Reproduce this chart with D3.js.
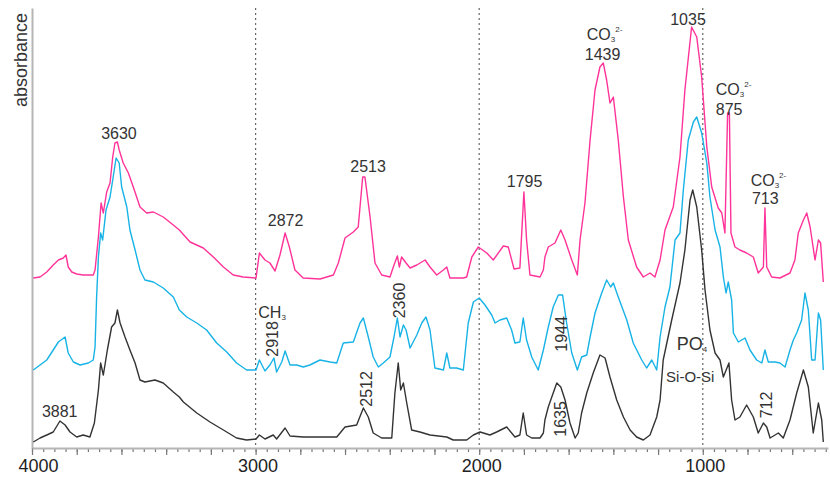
<!DOCTYPE html>
<html>
<head>
<meta charset="utf-8">
<script src="https://cdn.jsdelivr.net/npm/d3@7"></script>
<style>
  html, body { margin: 0; padding: 0; background: #fff; }
  svg { display: block; font-family: "Liberation Sans", Arial, sans-serif; }
</style>
</head>
<body>
<svg id="chart" width="830" height="477"></svg>
<script>
// ---- data: [wavenumber (cm-1), absorbance (a.u.)] ----
const magentaSpectrum = [
  [3994,1.70],[3964,1.71],[3934,1.76],[3905,1.83],[3882,1.88],[3860,1.90],[3848,1.93],[3838,1.81],[3822,1.76],[3800,1.74],
  [3771,1.73],[3726,1.73],[3718,1.78],[3703,2.11],[3691,2.45],[3681,2.35],[3666,2.56],[3651,2.65],[3639,2.91],[3629,3.05],
  [3618,3.06],[3610,2.98],[3592,2.85],[3569,2.75],[3547,2.61],[3517,2.41],[3487,2.35],[3457,2.36],[3413,2.31],[3368,2.23],
  [3341,2.18],[3293,2.06],[3234,2.00],[3189,1.91],[3144,1.81],[3100,1.73],[3055,1.71],[2998,1.70],[2983,1.95],[2958,1.88],
  [2936,1.85],[2913,1.77],[2891,1.93],[2868,2.15],[2849,2.01],[2824,1.78],[2787,1.70],[2712,1.69],[2652,1.73],[2630,1.85],
  [2600,2.10],[2563,2.16],[2541,2.21],[2521,2.71],[2511,2.71],[2488,2.31],[2466,1.85],[2436,1.73],[2399,1.71],[2381,1.83],
  [2366,1.92],[2357,1.81],[2347,1.91],[2327,1.85],[2309,1.80],[2279,1.83],[2242,1.88],[2220,1.81],[2190,1.73],[2160,1.78],
  [2145,1.81],[2131,1.70],[2071,1.70],[2056,1.71],[2033,1.91],[2004,2.01],[1966,1.95],[1937,1.88],[1892,2.02],[1870,2.01],
  [1844,1.79],[1818,1.80],[1800,2.56],[1788,2.08],[1773,1.73],[1728,1.71],[1713,1.78],[1706,1.91],[1691,2.01],[1661,2.05],
  [1635,2.18],[1616,2.08],[1586,1.88],[1561,1.73],[1549,2.08],[1527,2.45],[1504,3.08],[1482,3.58],[1460,3.81],[1445,3.85],
  [1430,3.68],[1415,3.45],[1400,3.51],[1378,3.08],[1355,2.51],[1333,2.08],[1296,1.81],[1266,1.71],[1236,1.75],[1214,1.71],
  [1191,1.88],[1169,2.18],[1132,2.41],[1102,2.91],[1080,3.58],[1050,4.21],[1027,4.11],[1005,3.71],[982,3.01],[960,2.61],
  [931,2.40],[915,2.35],[901,2.15],[889,3.35],[881,3.35],[874,2.15],[856,2.01],[834,1.98],[804,1.95],[774,1.91],
  [752,1.75],[729,1.81],[722,2.40],[714,1.81],[692,1.71],[655,1.70],[610,1.75],[588,1.88],[573,2.15],[550,2.28],
  [535,2.35],[520,2.21],[498,1.88],[483,2.08],[473,2.05],[461,1.66]
];
const cyanSpectrum = [
  [3994,0.78],[3964,0.83],[3934,0.88],[3905,0.98],[3882,1.06],[3852,1.11],[3838,0.95],[3815,0.86],[3785,0.83],[3748,0.85],
  [3726,0.88],[3718,1.01],[3711,1.51],[3703,1.91],[3693,2.15],[3684,2.08],[3669,2.38],[3651,2.51],[3639,2.68],[3624,2.90],
  [3610,2.85],[3599,2.61],[3576,2.41],[3562,2.18],[3539,1.98],[3517,1.78],[3495,1.68],[3457,1.66],[3413,1.60],[3368,1.51],
  [3341,1.38],[3308,1.31],[3263,1.25],[3219,1.18],[3174,1.05],[3129,0.96],[3085,0.85],[3040,0.78],[2998,0.78],[2983,0.88],
  [2958,0.77],[2936,0.83],[2918,0.90],[2906,0.76],[2883,0.86],[2868,0.97],[2846,0.83],[2816,0.83],[2787,0.81],[2757,0.83],
  [2712,0.88],[2667,0.86],[2637,0.85],[2608,1.05],[2563,1.06],[2533,1.25],[2518,1.30],[2496,1.11],[2474,0.91],[2451,0.81],
  [2429,0.85],[2399,0.91],[2381,1.11],[2366,1.30],[2354,1.11],[2339,1.23],[2327,1.18],[2309,1.00],[2279,1.13],[2257,1.25],
  [2238,1.31],[2220,1.18],[2198,0.80],[2160,0.78],[2145,0.95],[2131,0.80],[2101,0.80],[2071,0.78],[2049,1.25],[2026,1.46],
  [2000,1.50],[1974,1.43],[1944,1.33],[1929,1.25],[1907,1.28],[1877,1.30],[1855,1.18],[1840,1.05],[1818,1.06],[1803,1.30],
  [1788,1.08],[1765,0.91],[1736,0.78],[1713,0.98],[1691,1.21],[1669,1.41],[1646,1.53],[1627,1.53],[1609,1.25],[1586,0.95],
  [1561,0.78],[1542,0.91],[1519,0.93],[1504,1.11],[1482,1.35],[1452,1.55],[1430,1.68],[1412,1.61],[1400,1.65],[1378,1.51],
  [1340,1.28],[1311,1.05],[1273,0.88],[1251,0.80],[1228,0.88],[1206,0.78],[1191,1.11],[1169,1.41],[1147,1.61],[1124,2.08],
  [1102,2.15],[1087,2.58],[1065,3.08],[1042,3.26],[1027,3.31],[1005,3.15],[982,2.85],[968,2.51],[945,2.18],[923,2.01],
  [908,1.71],[896,1.55],[886,1.66],[871,1.48],[863,1.15],[841,1.06],[811,1.10],[789,0.98],[759,0.88],[736,0.85],
  [722,0.98],[707,0.86],[677,0.86],[655,0.85],[632,0.81],[610,0.98],[595,1.08],[580,1.15],[558,1.28],[543,1.55],
  [528,1.38],[513,0.88],[498,0.88],[483,1.35],[473,1.28],[461,0.78]
];
const blackSpectrum = [
  [3994,0.06],[3964,0.10],[3934,0.13],[3905,0.16],[3875,0.27],[3852,0.23],[3830,0.16],[3800,0.11],[3771,0.13],[3741,0.11],
  [3721,0.25],[3703,0.58],[3693,0.85],[3681,0.73],[3663,0.98],[3644,1.21],[3629,1.25],[3618,1.38],[3606,1.25],[3584,1.11],
  [3562,0.98],[3539,0.85],[3517,0.68],[3495,0.66],[3450,0.68],[3413,0.65],[3368,0.56],[3341,0.51],[3323,0.46],[3263,0.35],
  [3204,0.26],[3144,0.18],[3085,0.10],[3040,0.08],[2998,0.09],[2983,0.13],[2958,0.09],[2921,0.13],[2906,0.09],[2868,0.20],
  [2846,0.12],[2787,0.11],[2712,0.11],[2637,0.11],[2600,0.21],[2548,0.23],[2518,0.40],[2496,0.31],[2474,0.15],[2436,0.10],
  [2391,0.10],[2377,0.55],[2362,0.85],[2351,0.58],[2339,0.65],[2324,0.45],[2302,0.18],[2265,0.16],[2220,0.13],[2145,0.11],
  [2116,0.08],[2056,0.08],[2026,0.13],[1996,0.16],[1952,0.13],[1922,0.16],[1877,0.21],[1840,0.11],[1818,0.13],[1803,0.35],
  [1788,0.13],[1765,0.10],[1728,0.10],[1713,0.15],[1706,0.28],[1691,0.41],[1669,0.55],[1653,0.65],[1635,0.61],[1616,0.48],
  [1594,0.25],[1571,0.10],[1557,0.15],[1542,0.35],[1519,0.55],[1490,0.75],[1460,0.93],[1437,0.90],[1415,0.71],[1385,0.48],
  [1355,0.31],[1325,0.18],[1296,0.11],[1266,0.08],[1236,0.13],[1206,0.31],[1191,0.48],[1177,0.88],[1139,1.28],[1102,1.65],
  [1080,1.98],[1057,2.48],[1045,2.58],[1027,2.41],[1005,1.98],[990,1.58],[968,1.18],[945,0.95],[923,0.88],[908,0.71],
  [883,0.85],[871,0.48],[856,0.28],[834,0.31],[804,0.43],[774,0.31],[752,0.15],[729,0.25],[714,0.21],[699,0.10],
  [662,0.15],[640,0.10],[610,0.28],[580,0.55],[550,0.78],[528,0.61],[506,0.15],[483,0.45],[468,0.28],[461,0.06]
];
const seriesColors = ["#ff3399", "#17b3e6", "#333333"];
const majorTickLabels = [4000, 3000, 2000, 1000];
const guideWavenumbers = [3000, 2000, 1000];
const yAxisTitle = "absorbance";

// annotations: text anchored at [wavenumber, absorbance]
const plainLabels = [
  {t: "3630", wn: 3611, a: 3.095},
  {t: "2872", wn: 2866, a: 2.22},
  {t: "2513", wn: 2497, a: 2.765},
  {t: "1795", wn: 1797, a: 2.61},
  {t: "1439", wn: 1448, a: 3.88},
  {t: "1035", wn: 1066, a: 4.23},
  {t: "3881", wn: 3876, a: 0.31}
];
const leftLabels = [
  {t: "875", wn: 942, a: 3.33},
  {t: "713", wn: 780, a: 2.44}
];
const rotatedLabels = [
  {t: "2918", wn: 2900, a: 0.913},
  {t: "2360", wn: 2332, a: 1.297},
  {t: "2512", wn: 2479, a: 0.413},
  {t: "1944", wn: 1607, a: 0.963},
  {t: "1635", wn: 1612, a: 0.113},
  {t: "712",  wn: 692,  a: 0.297}
];
const chemLabels = [
  {base: "CO", sub: "3", sup: "2-", wn: 1519, a: 4.08},
  {base: "CO", sub: "3", sup: "2-", wn: 942, a: 3.53},
  {base: "CO", sub: "3", sup: "2-", wn: 786, a: 2.62},
  {base: "CH", sub: "3", sup: "", wn: 2988, a: 1.30},
  {base: "PO", sub: "4", sup: "", wn: 1117, a: 0.98, size: 18}
];
const extraLabels = [{t: "Si-O-Si", wn: 1164, a: 0.663}];

// ---- drawing ----
const svg = d3.select("#chart");
const x = d3.scaleLinear().domain([4000, 440]).range([32, 828]);
const y = d3.scaleLinear().domain([0, 4.4]).range([448, 8]);
const textColor = "#333";

// guide lines
svg.append("g").selectAll("line").data(guideWavenumbers).join("line")
  .attr("x1", d => x(d)).attr("x2", d => x(d))
  .attr("y1", y(4.4)).attr("y2", y(0))
  .attr("stroke", "#666").attr("stroke-width", 1.2).attr("stroke-dasharray", "2,3");

// y axis line
const yAx = svg.append("g").attr("transform", `translate(${x(4000)},0)`)
  .call(d3.axisLeft(y).tickValues([]).tickSizeOuter(0));
yAx.select(".domain").attr("stroke", "#b5b5b5").attr("stroke-width", 2);

// x axis
const xMinor = svg.append("g").attr("transform", `translate(0,${y(0)})`)
  .call(d3.axisBottom(x).tickValues(d3.range(4000, 440, -50)).tickSize(4).tickFormat("").tickSizeOuter(0));
xMinor.select(".domain").remove();
xMinor.selectAll(".tick line").attr("stroke", "#777").attr("stroke-width", 1.2);
const xMajor = svg.append("g").attr("transform", `translate(0,${y(0)})`)
  .call(d3.axisBottom(x).tickValues(d3.range(4000, 440, -200)).tickSize(7).tickFormat("").tickSizeOuter(0));
xMajor.select(".domain").remove();
xMajor.selectAll(".tick line").attr("stroke", "#777").attr("stroke-width", 1.2);
const xLab = svg.append("g").attr("transform", `translate(0,${y(0)})`)
  .call(d3.axisBottom(x).tickValues(majorTickLabels).tickSize(0).tickPadding(11).tickFormat(d3.format("d")).tickSizeOuter(0));
xLab.select(".domain").attr("stroke", "#b5b5b5").attr("stroke-width", 2);
xLab.selectAll(".tick text").attr("font-size", 18).attr("fill", "#222")
  .attr("font-family", "Liberation Sans, Arial, sans-serif")
  .attr("dx", d => d === 4000 ? 6 : 2);

// y title
svg.append("text")
  .attr("transform", `translate(27,13) rotate(-90)`)
  .attr("text-anchor", "end").attr("font-size", 18).attr("fill", textColor)
  .text(yAxisTitle);

// spectra
const line = d3.line().x(d => x(d[0])).y(d => y(d[1]));
[magentaSpectrum, cyanSpectrum, blackSpectrum].forEach((s, i) => {
  svg.append("path").datum(s).attr("d", line)
    .attr("fill", "none").attr("stroke", seriesColors[i])
    .attr("stroke-width", 1.4).attr("stroke-linejoin", "round");
});

// annotations
const ann = svg.append("g").attr("fill", textColor).attr("font-size", 16);
ann.selectAll("text.plain").data(plainLabels).join("text").attr("class", "plain")
  .attr("x", d => x(d.wn)).attr("y", d => y(d.a)).attr("text-anchor", "middle").text(d => d.t);
ann.selectAll("text.left").data(leftLabels).join("text").attr("class", "left")
  .attr("x", d => x(d.wn)).attr("y", d => y(d.a)).text(d => d.t);
ann.selectAll("text.extra").data(extraLabels).join("text").attr("class", "extra")
  .attr("font-size", 15)
  .attr("x", d => x(d.wn)).attr("y", d => y(d.a)).text(d => d.t);
ann.selectAll("text.rot").data(rotatedLabels).join("text").attr("class", "rot")
  .attr("transform", d => `translate(${x(d.wn)},${y(d.a)}) rotate(-90)`).text(d => d.t);
const chem = ann.selectAll("text.chem").data(chemLabels).join("text").attr("class", "chem")
  .attr("x", d => x(d.wn)).attr("y", d => y(d.a)).attr("font-size", d => d.size || 16);
chem.append("tspan").text(d => d.base);
chem.append("tspan").attr("font-size", 8).attr("dy", 2).text(d => d.sub);
chem.filter(d => d.sup).append("tspan").attr("font-size", 8).attr("dy", -10).text(d => d.sup);
</script>
</body>
</html>
